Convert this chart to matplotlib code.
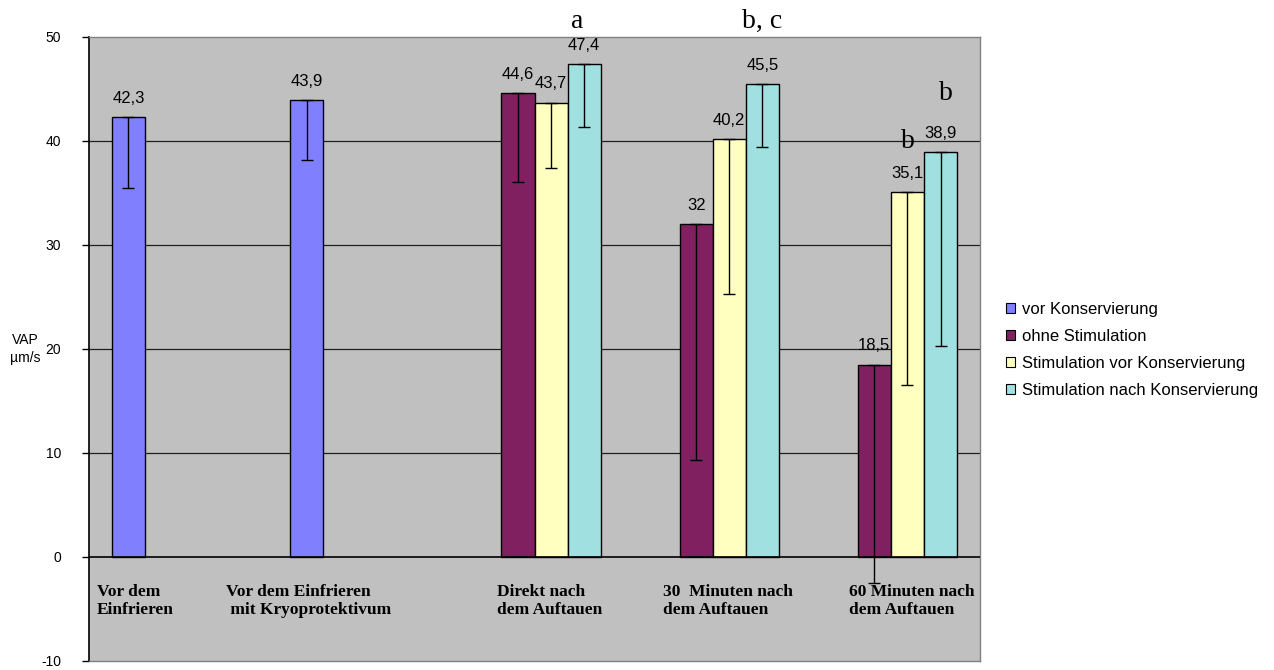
import numpy as np
import matplotlib
matplotlib.use("Agg")
import matplotlib.pyplot as plt
from matplotlib.patches import Patch

# ---------------- data ----------------
categories = ["Vor dem\nEinfrieren",
              "Vor dem Einfrieren\n mit Kryoprotektivum",
              "Direkt nach\ndem Auftauen",
              "30  Minuten nach\ndem Auftauen",
              "60 Minuten nach\ndem Auftauen"]
series_names = ["vor Konservierung", "ohne Stimulation",
                "Stimulation vor Konservierung", "Stimulation nach Konservierung"]
nan = np.nan
vor_konservierung = [42.3, 43.9, nan, nan, nan]
vor_konservierung_err = [6.8, 5.7, nan, nan, nan]
ohne_stimulation = [nan, nan, 44.6, 32.0, 18.5]
ohne_stimulation_err = [nan, nan, 8.5, 22.7, 21.0]
stim_vor = [nan, nan, 43.7, 40.2, 35.1]
stim_vor_err = [nan, nan, 6.3, 14.9, 18.6]
stim_nach = [nan, nan, 47.4, 45.5, 38.9]
stim_nach_err = [nan, nan, 6.1, 6.1, 18.6]
y_ticks = [-10, 0, 10, 20, 30, 40, 50]
# significance letters: (text, series index, category index)
letters = [("a", 3, 2), ("b, c", 3, 3), ("b", 3, 4), ("b", 2, 4)]

# ---------------- style / layout ----------------
colors = ["#8080FF", "#802060", "#FFFFC0", "#A0E0E0"]
values = [vor_konservierung, ohne_stimulation, stim_vor, stim_nach]
errors = [vor_konservierung_err, ohne_stimulation_err, stim_vor_err, stim_nach_err]

W, H = 1274, 670
fig = plt.figure(figsize=(W / 100, H / 100), dpi=100)
fig.patch.set_facecolor("white")
L, R, T, B = 89, 980, 37, 661
ax = fig.add_axes([L / W, 1 - B / H, (R - L) / W, (B - T) / H])
ax.set_facecolor("#C0C0C0")
ax.set_xlim(-0.5, len(categories) - 0.5)
ax.set_ylim(y_ticks[0], y_ticks[-1])

bw = 0.186
x = np.arange(len(categories))
for s, (vals, errs, col) in enumerate(zip(values, errors, colors)):
    vals = np.array(vals, dtype=float)
    errs = np.array(errs, dtype=float)
    m = ~np.isnan(vals)
    xs = x[m] + (s - 1.5) * bw
    ax.bar(xs, vals[m], width=bw, color=col, edgecolor="black", linewidth=1.0, zorder=3)
    ax.errorbar(xs, vals[m], yerr=[errs[m], np.zeros(m.sum())], fmt="none",
                ecolor="black", elinewidth=1.0, capsize=4, capthick=1.0, zorder=4)
    for xi, v in zip(xs, vals[m]):
        lab = f"{v:g}".replace(".", ",")
        ax.annotate(lab, (xi, v), xytext=(0, 8), textcoords="offset points",
                    ha="center", va="bottom", fontsize=12,
                    family="Liberation Sans", zorder=5)

# grid and zero line
ax.set_yticks(y_ticks)
ax.set_yticklabels([str(t) for t in y_ticks], family="Liberation Sans", fontsize=10)
for t in y_ticks[1:-1]:
    ax.axhline(t, color="#202020" if t else "black", lw=0.9 if t else 1.2, zorder=1 if t else 3.5)
ax.set_xticks([])
ax.tick_params(axis="y", length=5, width=1, pad=15, direction="out")
for side in ["top", "right", "bottom"]:
    ax.spines[side].set_color("#808080")
    ax.spines[side].set_linewidth(1.0)
ax.spines["left"].set_color("black")
ax.spines["left"].set_linewidth(1.2)

# y label
fig.text(25 / W, 1 - 349 / H, "VAP\nµm/s", ha="center", va="center",
         fontsize=10, family="Liberation Sans", linespacing=1.3)

# category labels (left aligned text boxes as in original)
label_x = [-0.455, 0.27, 1.79, 2.72, 3.765]
for lx, cat in zip(label_x, categories):
    ax.text(lx, -2.6, cat, ha="left", va="top", fontsize=12.5,
            family="Liberation Serif", fontweight="bold", linespacing=1.15, zorder=5)

# significance letters
letter_y = [50.9, 50.9, 43.9, 39.3]
letter_dx = [-0.04, 0.0, 0.03, 0.0]
for (txt, s, c), ly, dx in zip(letters, letter_y, letter_dx):
    ax.text(c + (s - 1.5) * bw + dx, ly, txt, ha="center", va="baseline",
            fontsize=20, family="Liberation Serif", clip_on=False, zorder=6)

# legend
handles = [Patch(facecolor=c, edgecolor="black", linewidth=0.8) for c in colors]
fig.legend(handles, series_names, loc="center left",
           bbox_to_anchor=(1006 / W, 1 - 350 / H), frameon=False,
           prop={"family": "Liberation Sans", "size": 12},
           handlelength=0.55, handleheight=0.55, handletextpad=0.4,
           labelspacing=0.72, borderaxespad=0, borderpad=0)

fig.savefig("out.png", dpi=100)
